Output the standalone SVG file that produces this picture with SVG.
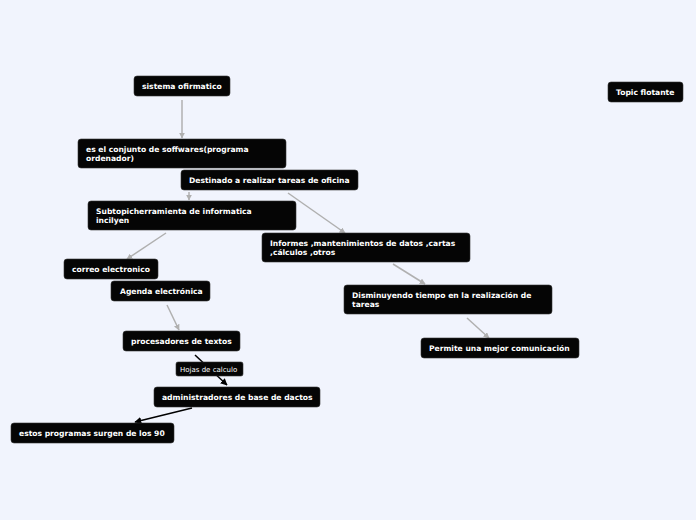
<svg xmlns="http://www.w3.org/2000/svg" width="696" height="520" viewBox="0 0 696 520">
<defs>
<marker id="ag" viewBox="0 0 10 10" refX="9" refY="5" markerWidth="6" markerHeight="6" orient="auto" markerUnits="userSpaceOnUse"><path d="M0,0 L10,5 L0,10 z" fill="#b0b0b0"/></marker>
<marker id="ab" viewBox="0 0 10 10" refX="9" refY="5" markerWidth="7" markerHeight="7" orient="auto" markerUnits="userSpaceOnUse"><path d="M0,0 L10,5 L0,10 z" fill="#000"/></marker>
<style>
.n{fill:#050505;stroke:#333;stroke-width:0.6}
.t{font-family:"DejaVu Sans",Verdana,sans-serif;font-weight:bold;font-size:7.6px;fill:#fff}
.l{font-family:"DejaVu Sans",Verdana,sans-serif;font-size:7px;fill:#fff}
.g{stroke:#b0b0b0;stroke-width:1.5;fill:none;marker-end:url(#ag)}
.b{stroke:#000;stroke-width:1.5;fill:none;marker-end:url(#ab)}
</style>
</defs>
<rect width="696" height="520" fill="#f1f4fd"/>
<g id="connectors">
<line class="g" x1="182" y1="100" x2="182" y2="138"/>
<line class="g" x1="189" y1="192" x2="189" y2="200"/>
<line class="g" x1="288" y1="193" x2="345" y2="233"/>
<line class="g" x1="166" y1="233" x2="127" y2="259"/>
<line class="g" x1="393" y1="264" x2="425" y2="284"/>
<line class="g" x1="467" y1="318" x2="489" y2="338"/>
<line class="g" x1="167" y1="305" x2="179" y2="330"/>
<line class="b" x1="195" y1="355" x2="227" y2="385"/>
<line class="b" x1="192" y1="408" x2="135" y2="422"/>
</g>
<g id="n1"><rect class="n" x="134" y="76" width="96" height="20" rx="3"/><text class="t" x="142" y="89">sistema ofirmatico</text></g>
<g id="n2"><rect class="n" x="78" y="139" width="208" height="29" rx="3"/><text class="t" x="86" y="152">es el conjunto de soffwares(programa</text><text class="t" x="86" y="161">ordenador)</text></g>
<g id="n3"><rect class="n" x="181" y="170" width="177" height="20" rx="3"/><text class="t" x="189" y="183">Destinado a realizar tareas de oficina</text></g>
<g id="n4"><rect class="n" x="88" y="201" width="208" height="29" rx="3"/><text class="t" x="96" y="214">Subtopicherramienta de informatica</text><text class="t" x="96" y="223">incilyen</text></g>
<g id="n5"><rect class="n" x="262" y="233" width="208" height="29" rx="3"/><text class="t" x="270" y="246">Informes ,mantenimientos de datos ,cartas</text><text class="t" x="270" y="255">,cálculos ,otros</text></g>
<g id="n6"><rect class="n" x="64" y="259" width="94" height="20" rx="3"/><text class="t" x="72" y="272">correo electronico</text></g>
<g id="n7"><rect class="n" x="111" y="281" width="99" height="20" rx="3"/><text class="t" x="120" y="294">Agenda electrónica</text></g>
<g id="n8"><rect class="n" x="123" y="331" width="117" height="20" rx="3"/><text class="t" x="131" y="344">procesadores de textos</text></g>
<g id="lbl"><rect class="n" x="176" y="362" width="67" height="14" rx="2"/><text class="l" x="180" y="372">Hojas de calculo</text></g>
<g id="n9"><rect class="n" x="154" y="387" width="166" height="20" rx="3"/><text class="t" x="162" y="400">administradores de base de dactos</text></g>
<g id="n10"><rect class="n" x="11" y="423" width="163" height="20" rx="3"/><text class="t" x="19" y="436">estos programas surgen de los 90</text></g>
<g id="n11"><rect class="n" x="344" y="285" width="208" height="29" rx="3"/><text class="t" x="352" y="298">Disminuyendo tiempo en la realización de</text><text class="t" x="352" y="307">tareas</text></g>
<g id="n12"><rect class="n" x="421" y="338" width="158" height="20" rx="3"/><text class="t" x="429" y="351">Permite una mejor comunicación</text></g>
<g id="n13"><rect class="n" x="608" y="82" width="75" height="20" rx="3"/><text class="t" x="616" y="95">Topic flotante</text></g>
</svg>
